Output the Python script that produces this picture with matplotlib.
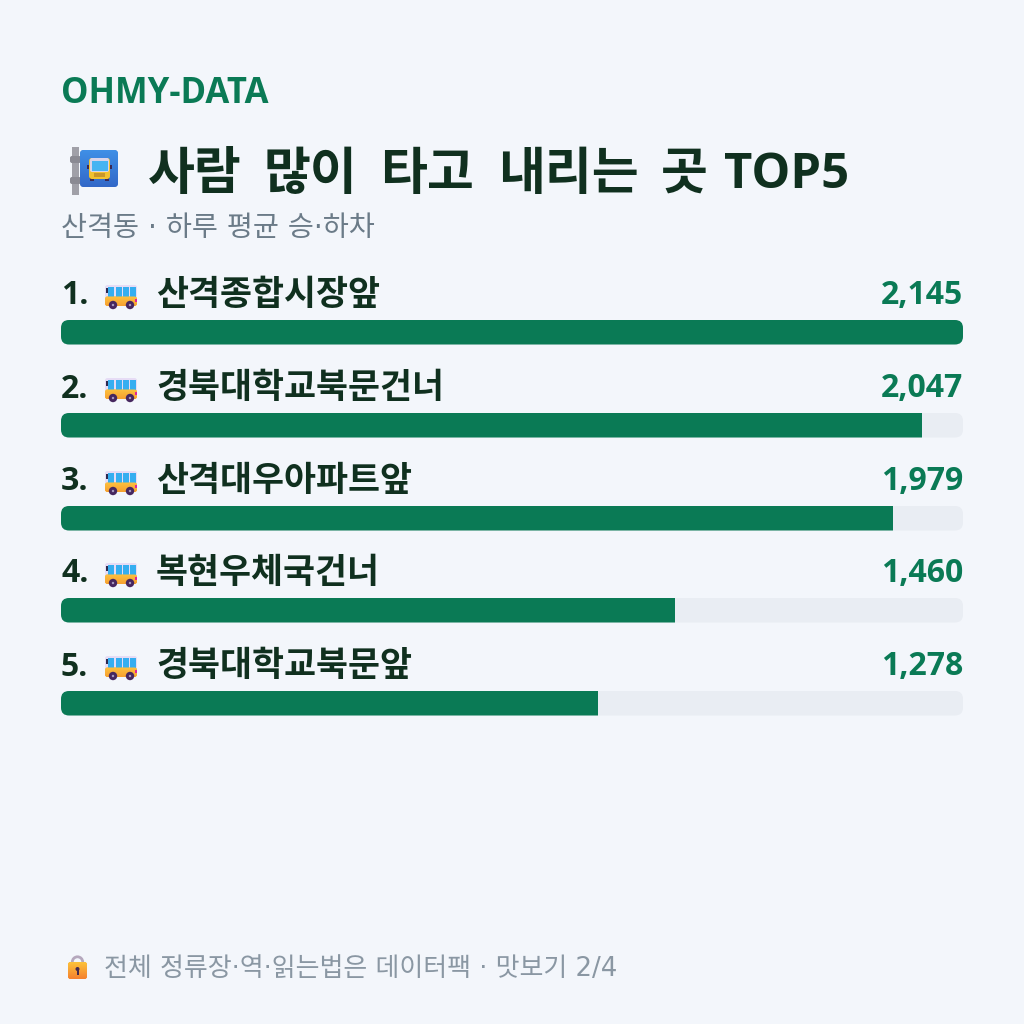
import numpy as np
import matplotlib
matplotlib.use("Agg")
import matplotlib.pyplot as plt
from matplotlib.patches import FancyBboxPatch, Rectangle, Circle, Polygon
from matplotlib.colors import LinearSegmentedColormap

# Chart content
brand = "OHMY-DATA"
title_words = ["사람", "많이", "타고", "내리는", "곳"]
title_tail = "TOP5"
subtitle = "산격동 · 하루 평균 승·하차"
footer = "전체 정류장·역·읽는법은 데이터팩 · 맛보기 2/4"
stops = ["산격종합시장앞", "경북대학교북문건너", "산격대우아파트앞", "복현우체국건너", "경북대학교북문앞"]
riders = [2145, 2047, 1979, 1460, 1278]

BG = "#f3f6fb"
TRACK = "#e9edf3"
GREEN = "#0a7a55"
DARK = "#10301f"
GREY = "#6b7b88"
GREY2 = "#8a97a3"
LATIN = ["Open Sans", "Noto Sans CJK KR", "DejaVu Sans"]
KR = ["Noto Sans CJK KR", "DejaVu Sans"]
# DejaVu supplies the wider spaces and dots, Noto the Hangul
KR_WIDE = ["DejaVu Sans", "Noto Sans CJK KR"]
PT = 0.72  # pixels to points at 100 dpi

fig = plt.figure(figsize=(10.24, 10.24), dpi=100, facecolor=BG)

# Page layer in pixel units for text, tracks and icons
page = fig.add_axes([0, 0, 1, 1], zorder=1)
page.set_xlim(0, 1024)
page.set_ylim(1024, 0)
page.axis("off")

# Bar layer shares the page's vertical units; horizontal axis is the rider count
X0, X1 = 61, 963
bars = fig.add_axes([X0 / 1024, 0, (X1 - X0) / 1024, 1], zorder=2)
bars.set_xlim(0, max(riders))
bars.set_ylim(1024, 0)
bars.axis("off")
bars.patch.set_alpha(0)


def gradient(ax, x0, y0, x1, y1, c_top, c_bottom, clip, z=5):
    cmap = LinearSegmentedColormap.from_list("g", [c_top, c_bottom])
    im = ax.imshow(np.linspace(0, 1, 32)[:, None], cmap=cmap, extent=(x0, x1, y1, y0),
                   aspect="auto", zorder=z, interpolation="bilinear")
    im.set_clip_path(clip)
    ax.set_xlim(0, 1024)
    ax.set_ylim(1024, 0)
    return im


def rbox(ax, x0, y0, x1, y1, r, z=4, **kw):
    p = FancyBboxPatch((x0 + r, y0 + r), x1 - x0 - 2 * r, y1 - y0 - 2 * r,
                       boxstyle=f"round,pad={r},rounding_size={r}", linewidth=0, zorder=z, **kw)
    ax.add_patch(p)
    return p


def bus_icon(ax, x, y):
    # side-on bus, 32 px wide and 24 px tall
    rbox(ax, x, y, x + 32, y + 14, 2.5, fc="#e6dcf5")
    for wx in (3, 10.5, 18, 25):
        ax.add_patch(Rectangle((x + wx, y + 1.5), 6, 11, fc="#35aef0", lw=0, zorder=5))
    ax.add_patch(Rectangle((x + 0.5, y + 3), 2, 5, fc="#2d2a4e", lw=0, zorder=5))
    lower = rbox(ax, x, y + 11.5, x + 32, y + 21, 2.5, fc="#fbb03b")
    gradient(ax, x, y + 11.5, x + 32, y + 21, "#fdc23f", "#f7a030", lower)
    ax.add_patch(Rectangle((x + 30, y + 14), 2, 3, fc="#e0249a", lw=0, zorder=6))
    for wx in (8, 25):
        ax.add_patch(Circle((x + wx, y + 20), 4.2, fc="#46275f", lw=0, zorder=7))
        ax.add_patch(Circle((x + wx, y + 20), 1.2, fc="#a99bc0", lw=0, zorder=8))


def stop_icon(ax):
    # bus-stop sign on a grey post
    ax.add_patch(Rectangle((72, 147), 7, 48, fc="#a0a0a8", lw=0, zorder=4))
    for by in (156, 177):
        rbox(ax, 70, by, 81, by + 7, 2, fc="#8a8a93")
    sign = rbox(ax, 80, 150, 118, 187, 4, fc="#3a7bd5")
    gradient(ax, 80, 150, 118, 187, "#3f8fe6", "#3268c8", sign)
    rbox(ax, 89, 158, 110, 179, 3, z=6, fc="#f2c230")
    rbox(ax, 90, 158, 109, 172, 2, z=7, fc="#d9d4ea")
    ax.add_patch(Rectangle((91.5, 160.5), 16, 10, fc="#46b4f2", lw=0, zorder=8))
    ax.add_patch(Rectangle((94, 173), 11, 4, fc="#c9962a", lw=0, zorder=8))
    for wx in (90, 105):
        ax.add_patch(Rectangle((wx, 178), 4, 2.5, fc="#3b2a55", lw=0, zorder=5.5))
    ax.add_patch(Rectangle((87, 165), 2, 4, fc="#3b2a55", lw=0, zorder=8))
    ax.add_patch(Rectangle((110, 165), 2, 4, fc="#3b2a55", lw=0, zorder=8))


def lock_icon(ax):
    # padlock: ring over a warm body
    ax.add_patch(Circle((77.5, 962), 5.2, fc="none", ec="#b5a8bd", lw=2, zorder=4))
    body = rbox(ax, 68, 962, 87, 979, 2.5, z=5, fc="#f9a42f")
    gradient(ax, 68, 962, 87, 979, "#fcc23a", "#f5812f", body, z=6)
    ax.add_patch(Circle((77.5, 969), 2, fc="#43294f", lw=0, zorder=7))
    ax.add_patch(Polygon([(76.5, 969), (78.5, 969), (78.5, 975), (76.5, 975)], fc="#43294f", lw=0, zorder=7))


# Header
page.text(61, 103, brand, fontsize=34.7 * PT, fontweight="bold", color=GREEN, family=LATIN)
stop_icon(page)
for word, wx in zip(title_words, [148, 264, 380, 498, 661]):
    page.text(wx, 188.5, word, fontsize=51 * PT, fontweight="bold", color=DARK, family=KR)
page.text(724, 188.5, title_tail, fontsize=49 * PT, fontweight="bold", color=DARK, family=LATIN)
page.text(61, 235.5, subtitle, fontsize=28.3 * PT, color=GREY, family=KR_WIDE)

# Ranked rows
track_tops = [320, 413, 506, 598, 691]
for i, (name, value, top) in enumerate(zip(stops, riders, track_tops)):
    base = top - 15
    track = rbox(page, X0, top, X1, top + 24.5, 8, z=3, fc=TRACK)
    bar = bars.barh(top + 12.25, value, height=24.5, color=GREEN, linewidth=0, zorder=3)[0]
    bar.set_clip_path(track)
    page.text(61, base - 0.5, f"{i + 1}.", fontsize=32 * PT, fontweight="bold", color=DARK, family=LATIN)
    bus_icon(page, 105, top - 35)
    page.text(156, base, name, fontsize=34.8 * PT, fontweight="bold", color=DARK, family=KR)
    page.text(X1, base - 1, f"{value:,}", fontsize=32 * PT, fontweight="bold", color=GREEN,
              family=LATIN, ha="right")

# Footer
lock_icon(page)
page.text(104, 976, footer, fontsize=26 * PT, color=GREY2, family=KR_WIDE)

fig.savefig("out.png", dpi=100, facecolor=BG)
